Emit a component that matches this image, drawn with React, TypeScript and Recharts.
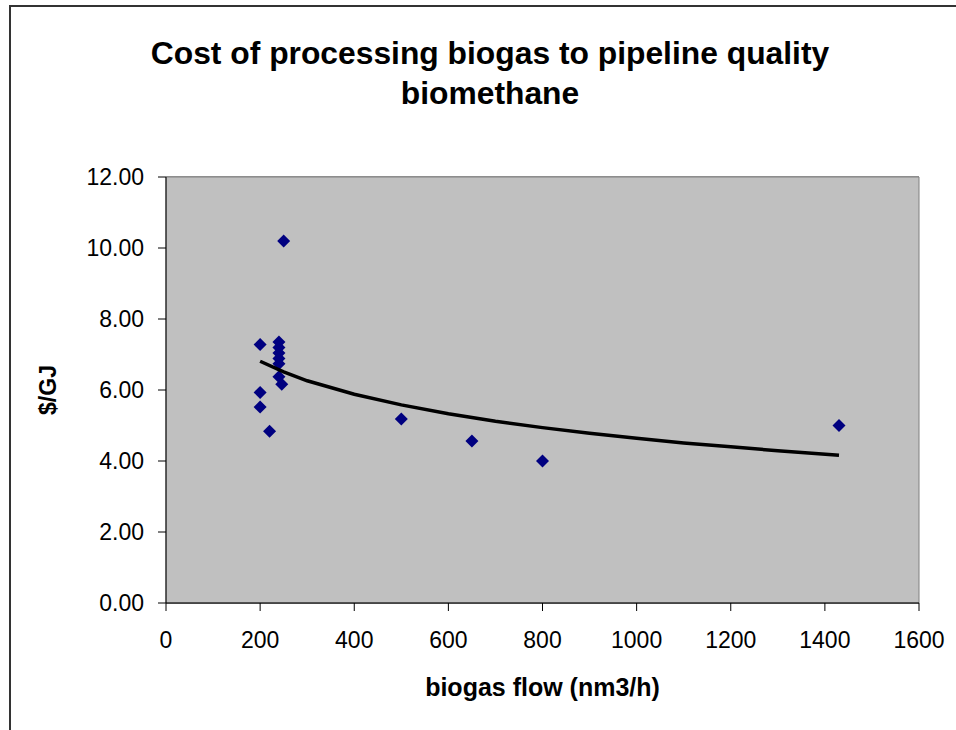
import { ComposedChart, Scatter, XAxis, YAxis, CartesianGrid, ReferenceArea, Label } from "recharts"

// plant size (nm3/h) and processing cost ($/GJ)
const flow = [200, 200, 200, 220, 240, 240, 240, 240, 240, 240, 246, 250, 500, 650, 800, 1430]
const cost = [7.28, 5.93, 5.52, 4.84, 7.35, 7.20, 7.04, 6.89, 6.74, 6.37, 6.16, 10.2, 5.18, 4.56, 4.0, 5.0]

// trendline
const trendFlow = [200, 250, 300, 400, 500, 600, 700, 800, 900, 1000, 1100, 1200, 1300, 1430]
const trendCost = [6.81, 6.51, 6.26, 5.88, 5.58, 5.33, 5.12, 4.94, 4.78, 4.64, 4.51, 4.4, 4.29, 4.16]

const xTicks = [0, 200, 400, 600, 800, 1000, 1200, 1400, 1600]
const yTicks = [0, 2, 4, 6, 8, 10, 12]

const points = flow.map((x, i) => ({ x, y: cost[i] }))
const trend = trendFlow.map((x, i) => ({ x, y: trendCost[i] }))

const font = "'Liberation Sans', Arial, sans-serif"

const Diamond = (props: any) => {
  const { cx, cy } = props
  const r = 6.5
  return <polygon points={`${cx},${cy - r} ${cx + r},${cy} ${cx},${cy + r} ${cx - r},${cy}`} fill="#000080" />
}

export default function App() {
  return (
    <div style={{ position: "absolute", left: 0, top: 0, width: 956, height: 730, overflow: "hidden", background: "#fff", fontFamily: font }}>
      <div style={{ position: "absolute", left: 9, top: 5, width: 1200, height: 1200, borderLeft: "2px solid #333", borderTop: "2px solid #333" }} />
      <div style={{ position: "absolute", left: 40, width: 900, top: 33, textAlign: "center", fontWeight: "bold", fontSize: 31.8, lineHeight: "40px", color: "#000" }}>
        Cost of processing biogas to pipeline quality
        <br />
        biomethane
      </div>
      <div style={{ position: "absolute", left: 0, top: 0 }}>
        <ComposedChart width={956} height={730} margin={{ top: 177, right: 37, left: 0, bottom: 0 }}>
          <ReferenceArea x1={0} x2={1600} y1={0} y2={12} fill="#c0c0c0" fillOpacity={1} stroke="#808080" strokeWidth={1} />
          <CartesianGrid vertical={false} stroke="#333" strokeOpacity={1} />
          <XAxis
            type="number"
            dataKey="x"
            domain={[0, 1600]}
            ticks={xTicks}
            tickSize={8}
            tickMargin={21}
            height={127}
            stroke="#000"
            tick={{ fill: "#000", fontSize: 23, fontFamily: font }}
          >
            <Label value="biogas flow (nm3/h)" position="insideTop" offset={75} style={{ fontWeight: "bold", fontSize: 25, fill: "#000", fontFamily: font }} />
          </XAxis>
          <YAxis
            type="number"
            dataKey="y"
            domain={[0, 12]}
            ticks={yTicks}
            tickFormatter={(v) => v.toFixed(2)}
            tickSize={8}
            tickMargin={14}
            width={166}
            stroke="#000"
            tick={{ fill: "#000", fontSize: 23, fontFamily: font }}
          >
            <Label value="$/GJ" angle={-90} position="insideLeft" offset={48} style={{ fontWeight: "bold", fontSize: 23, fill: "#000", fontFamily: font, textAnchor: "middle" }} />
          </YAxis>
          <Scatter data={points} shape={<Diamond />} isAnimationActive={false} />
          <Scatter data={trend} line={{ stroke: "#000", strokeWidth: 3.5 }} lineType="joint" shape={() => null} isAnimationActive={false} />
        </ComposedChart>
      </div>
    </div>
  )
}
